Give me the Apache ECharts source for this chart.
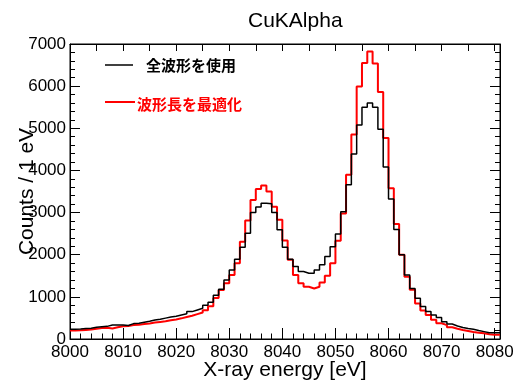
<!DOCTYPE html>
<html><head><meta charset="utf-8">
<script src="https://cdn.jsdelivr.net/npm/echarts@6/dist/echarts.min.js"></script>
<style>html,body{margin:0;padding:0;background:#fff}#c{width:516px;height:385px}</style>
</head><body><div id="c"></div>
<script>
const chartTitle = 'CuKAlpha';
const xTitle = 'X-ray energy [eV]';
const yTitle = 'Counts / 1 eV';
const seriesNames = ['全波形を使用', '波形長を最適化'];
const firstBinEdge = 8000;
const binWidth = 1;
// counts per 1 eV bin, bins 8000-8001 ... 8080-8081
const allWaveform = [
  230,235,250,255,280,290,300,330,335,330,
  320,365,375,400,420,450,470,495,520,540,
  570,600,650,690,730,800,870,1040,1180,1400,
  1640,1890,2180,2510,3000,3130,3220,3210,3000,2590,
  2180,1890,1720,1600,1560,1560,1640,1760,1960,2190,
  2490,3020,3660,4390,5080,5500,5600,5500,4980,4080,
  3320,2600,2000,1520,1200,965,770,650,570,510,
  410,355,310,275,250,230,200,175,150,150,
  150
];
const optimizedLength = [
  200,205,215,225,245,260,265,250,280,300,
  310,330,340,355,370,390,405,420,445,465,
  490,520,550,590,630,680,780,970,1160,1320,
  1520,1800,2310,2810,3300,3560,3640,3500,3140,2830,
  2340,1880,1520,1320,1240,1200,1240,1340,1500,1800,
  2330,2980,3900,4850,5990,6550,6820,6540,5860,4770,
  3580,2730,2000,1480,1170,840,675,570,455,375,
  330,280,245,215,190,165,150,135,112,100,
  100
];
const xTickLabels = [8000,8010,8020,8030,8040,8050,8060,8070,8080];
const yTickLabels = [0,1000,2000,3000,4000,5000,6000,7000];

function toSteps(vals) {
  const pts = vals.map((v, i) => [firstBinEdge + i * binWidth, v]);
  pts.push([firstBinEdge + vals.length * binWidth, vals[vals.length - 1]]);
  return pts;
}
const xMax = firstBinEdge + allWaveform.length * binWidth;
const FONT = 'Liberation Sans';

const chart = echarts.init(document.getElementById('c'), null, {renderer: 'canvas'});
chart.setOption({
  animation: false,
  backgroundColor: '#fff',
  title: {
    text: chartTitle, left: 243, top: 6,
    textStyle: {fontFamily: FONT, fontSize: 21, fontWeight: 'normal', color: '#000'}
  },
  grid: {left: 70, right: 16, top: 44, bottom: 46, containLabel: false, outerBoundsMode: 'none',
         show: true, borderColor: '#000', borderWidth: 1, backgroundColor: 'transparent'},
  xAxis: [
    {
      type: 'value', position: 'bottom', min: firstBinEdge, max: xMax, interval: 10,
      axisLine: {show: true, onZero: false, lineStyle: {color: '#000', width: 1}},
      axisTick: {show: true, inside: true, length: 11, lineStyle: {color: '#000', width: 1}},
      minorTick: {show: true, splitNumber: 5, length: 5.5, lineStyle: {color: '#000', width: 1}},
      axisLabel: {
        show: true, showMaxLabel: false, margin: 5, color: '#000', fontFamily: FONT, fontSize: 17,
        formatter: v => (xTickLabels.indexOf(v) >= 0 ? String(v) : '')
      },
      splitLine: {show: false},
      name: xTitle, nameLocation: 'middle', nameGap: 21, nameMoveOverlap: false,
      nameTextStyle: {fontFamily: FONT, fontSize: 21, color: '#000'}
    },
    {
      type: 'value', position: 'top', min: firstBinEdge, max: xMax, interval: 10,
      axisLine: {show: true, onZero: false, lineStyle: {color: '#000', width: 1}},
      axisTick: {show: true, inside: true, length: 7, lineStyle: {color: '#000', width: 1}},
      minorTick: {show: true, splitNumber: 2, length: 7, lineStyle: {color: '#000', width: 1}},
      axisLabel: {show: false}, splitLine: {show: false}
    }
  ],
  yAxis: [
    {
      type: 'value', position: 'left', min: 0, max: 7000, interval: 1000,
      axisLine: {show: true, onZero: false, lineStyle: {color: '#000', width: 1}},
      axisTick: {show: true, inside: true, length: 10, lineStyle: {color: '#000', width: 1}},
      minorTick: {show: true, splitNumber: 5, length: 5, lineStyle: {color: '#000', width: 1}},
      axisLabel: {
        show: true, margin: 4, color: '#000', fontFamily: FONT, fontSize: 17,
        formatter: v => (yTickLabels.indexOf(v) >= 0 ? String(v) : '')
      },
      splitLine: {show: false},
      name: yTitle, nameLocation: 'middle', nameGap: 32, nameRotate: 90, nameMoveOverlap: false,
      nameTextStyle: {fontFamily: FONT, fontSize: 21, color: '#000'}
    },
    {
      type: 'value', position: 'right', min: 0, max: 7000, interval: 1000,
      axisLine: {show: true, onZero: false, lineStyle: {color: '#000', width: 1}},
      axisTick: {show: true, inside: true, length: 10, lineStyle: {color: '#000', width: 1}},
      minorTick: {show: true, splitNumber: 5, length: 5, lineStyle: {color: '#000', width: 1}},
      axisLabel: {show: false}, splitLine: {show: false}
    }
  ],
  series: [
    {
      name: seriesNames[1], type: 'line', step: 'end', data: toSteps(optimizedLength),
      xAxisIndex: 0, yAxisIndex: 0, showSymbol: false, symbol: 'none',
      lineStyle: {color: '#ff0000', width: 2}, itemStyle: {color: '#ff0000'}, z: 2
    },
    {
      name: seriesNames[0], type: 'line', step: 'end', data: toSteps(allWaveform),
      xAxisIndex: 0, yAxisIndex: 0, showSymbol: false, symbol: 'none',
      lineStyle: {color: '#000000', width: 1.5}, itemStyle: {color: '#000'}, z: 3
    }
  ],
  graphic: [
    {type: 'line', shape: {x1: 105, y1: 65, x2: 133, y2: 65}, style: {stroke: '#000', lineWidth: 1.5}},
    {type: 'text', x: 146, y: 65, style: {text: seriesNames[0], fill: '#000', font: 'bold 15px "Noto Sans CJK JP"', textVerticalAlign: 'middle'}},
    {type: 'line', shape: {x1: 105, y1: 102, x2: 135, y2: 102}, style: {stroke: '#ff0000', lineWidth: 2}},
    {type: 'text', x: 137, y: 104, style: {text: seriesNames[1], fill: '#ff0000', font: 'bold 15px "Noto Sans CJK JP"', textVerticalAlign: 'middle'}}
  ]
});
</script></body></html>
